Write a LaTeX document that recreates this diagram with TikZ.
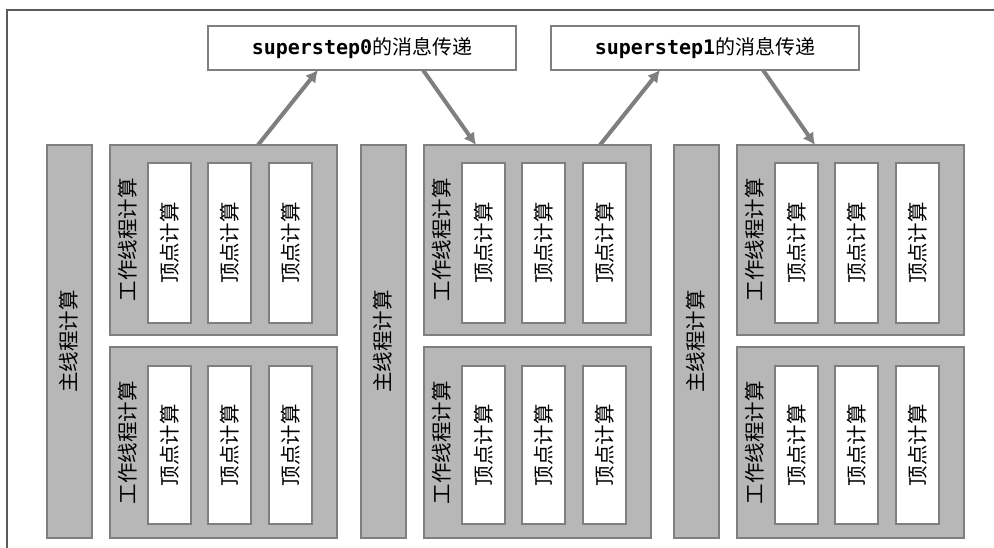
\documentclass[tikz,border=0pt]{standalone}
\usepackage{fontspec}
\usetikzlibrary{arrows.meta}
\newfontfamily\cjk{Noto Sans CJK SC}
\newfontfamily\monof{DejaVu Sans Mono}
\definecolor{boxfill}{HTML}{B7B7B7}
\definecolor{boxline}{HTML}{7F7F7F}
\definecolor{frameline}{HTML}{5A5A5A}
\tikzset{
  grey box/.style={draw=boxline, line width=2pt, fill=boxfill, inner sep=0pt, outer sep=0pt},
  white box/.style={draw=boxline, line width=2pt, fill=white, inner sep=0pt, outer sep=0pt},
  vlabel/.style={rotate=90, inner sep=0pt, font=\cjk\fontsize{20.5}{24}\selectfont},
  toplabel/.style={font=\fontsize{20}{24}\selectfont, inner sep=0pt},
  arr/.style={draw=boxline, line width=4pt, -{Latex[length=12pt,width=13pt]}},
}
\begin{document}
\begin{tikzpicture}[x=1pt,y=-1pt]
\useasboundingbox (0,0) rectangle (994,548);
% frame (top and left edges)
\draw[frameline, line width=1.5pt] (7,548) -- (7,10) -- (994,10);
% top message boxes
\node[white box, minimum width=308pt, minimum height=44pt] (t1) at (362,48) {};
\node[toplabel] (t1l) at (t1) {{\monof\bfseries superstep0}{\cjk 的消息传递}};
\node[white box, minimum width=308pt, minimum height=44pt] (t2) at (705,48) {};
\node[toplabel] (t2l) at (t2) {{\monof\bfseries superstep1}{\cjk 的消息传递}};
% groups
\foreach \g/\dx in {0/0, 1/314, 2/627} {
  % main thread column
  \node[grey box, minimum width=45pt, minimum height=393pt] (m\g) at ({69+\dx},341.5) {};
  \node[vlabel] (m\g l) at (m\g) {主线程计算};
  % worker boxes: top (0) and bottom (1)
  \foreach \w/\cy/\h/\vy/\vh in {0/240/190/243/160, 1/442.5/191/445/158} {
    \node[grey box, minimum width=227pt, minimum height=\h pt] (w\g\w) at ({223.5+\dx},\cy) {};
    \node[vlabel] (w\g\w l) at ({128+\dx},\cy) {工作线程计算};
    \foreach \v/\vx in {0/169.5, 1/229.5, 2/290.5} {
      \node[white box, minimum width=43pt, minimum height=\vh pt] (v\g\w\v) at ({\vx+\dx},\vy) {};
      \node[vlabel] (v\g\w\v l) at (v\g\w\v) {顶点计算};
    }
  }
}
% arrows
\draw[arr] ([xshift=34.5pt]w00.north) -- ([xshift=-44pt]t1.south);
\draw[arr] ([xshift=61pt]t1.south) -- ([xshift=-61.5pt]w10.north);
\draw[arr] ([xshift=62.5pt]w10.north) -- ([xshift=-45pt]t2.south);
\draw[arr] ([xshift=58pt]t2.south) -- ([xshift=-35.5pt]w20.north);
\end{tikzpicture}
\end{document}
